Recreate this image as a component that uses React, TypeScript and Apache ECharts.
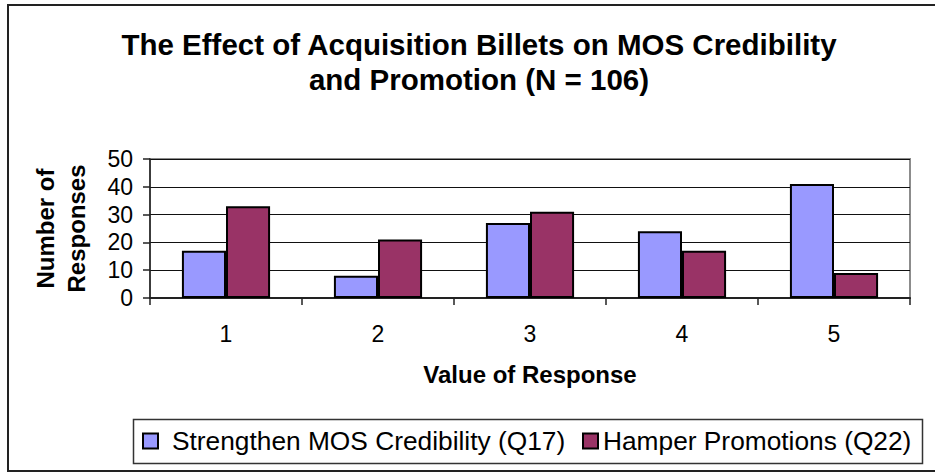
import React, { useEffect, useRef } from 'react';
import * as echarts from 'echarts';

const categories = ['1', '2', '3', '4', '5'];
const strengthenMOS = [17, 8, 27, 24, 41];
const hamperPromotions = [33, 21, 31, 17, 9];
const seriesNames = ['Strengthen MOS Credibility (Q17)', 'Hamper Promotions (Q22)'];
const seriesColors = ['#9999FF', '#993366'];
const titleLines = ['The Effect of Acquisition Billets on MOS Credibility', 'and Promotion (N = 106)'];
const yMin = 0;
const yMax = 50;
const yInterval = 10;
const xAxisTitle = 'Value of Response';
const yAxisTitle = 'Number of\nResponses';

const FONT = '"Liberation Sans", Arial, Helvetica, sans-serif';

export default function App() {
  const ref = useRef<HTMLDivElement>(null);

  useEffect(() => {
    if (!ref.current) return;
    const chart = echarts.init(ref.current, undefined, { renderer: 'svg' });
    const barStyle = (i: number) => ({ color: seriesColors[i], borderColor: '#000', borderWidth: 2 });
    const option: any = {
      animation: false,
      backgroundColor: '#fff',
      textStyle: { fontFamily: FONT, color: '#000' },
      title: {
        text: titleLines.join('\n'),
        left: 479,
        top: 27,
        textAlign: 'center',
        padding: 0,
        textStyle: { fontFamily: FONT, fontSize: 29.5, fontWeight: 'bold', color: '#000', lineHeight: 35 },
      },
      graphic: [
        {
          type: 'rect',
          z: -1,
          shape: { x: 8, y: 5, width: 940, height: 466 },
          style: { fill: 'none', stroke: '#222', lineWidth: 2 },
        },
        {
          type: 'rect',
          z: -1,
          shape: { x: 133.5, y: 419.5, width: 789, height: 44 },
          style: { fill: 'none', stroke: '#333', lineWidth: 1.5 },
        },
      ],
      legend: [
        {
          data: [seriesNames[0]],
          left: 142,
          top: 426,
          padding: 0,
          itemWidth: 15,
          itemHeight: 15,
          icon: 'rect',
          textStyle: { fontFamily: FONT, fontSize: 26.3, color: '#000', lineHeight: 30, padding: [0, 0, 0, 9] },
        },
        {
          data: [seriesNames[1]],
          left: 582,
          top: 426,
          padding: 0,
          itemWidth: 15,
          itemHeight: 15,
          icon: 'rect',
          textStyle: { fontFamily: FONT, fontSize: 26.3, color: '#000', lineHeight: 30, padding: [0, 0, 0, 0] },
        },
      ],
      grid: {
        left: 150,
        top: 159,
        width: 760,
        height: 139,
        show: true,
        borderColor: '#8c8c8c',
        borderWidth: 2,
        backgroundColor: 'transparent',
      },
      xAxis: {
        type: 'category',
        data: categories,
        name: xAxisTitle,
        nameLocation: 'middle',
        nameGap: 64,
        nameTextStyle: { fontFamily: FONT, fontSize: 24, fontWeight: 'bold', color: '#000' },
        axisLine: { show: true, lineStyle: { color: '#222', width: 2 } },
        axisTick: { show: true, alignWithLabel: false, length: 7, lineStyle: { color: '#222', width: 1.5 } },
        axisLabel: { fontFamily: FONT, fontSize: 23, color: '#000', margin: 24 },
        splitLine: { show: false },
      },
      yAxis: {
        type: 'value',
        min: yMin,
        max: yMax,
        interval: yInterval,
        name: yAxisTitle,
        nameLocation: 'middle',
        nameGap: 58,
        nameRotate: 90,
        nameTextStyle: { fontFamily: FONT, fontSize: 24, fontWeight: 'bold', color: '#000', lineHeight: 31 },
        axisLine: { show: true, lineStyle: { color: '#222', width: 1.5 } },
        axisTick: { show: true, length: 7, lineStyle: { color: '#222', width: 1.5 } },
        axisLabel: { fontFamily: FONT, fontSize: 23, color: '#000', margin: 17 },
        splitLine: { show: true, lineStyle: { color: '#111', width: 1 } },
      },
      series: [
        {
          name: seriesNames[0],
          type: 'bar',
          data: strengthenMOS,
          barGap: '0%',
          barCategoryGap: '42%',
          itemStyle: barStyle(0),
        },
        {
          name: seriesNames[1],
          type: 'bar',
          data: hamperPromotions,
          barGap: '0%',
          barCategoryGap: '42%',
          itemStyle: barStyle(1),
        },
      ],
    };
    chart.setOption(option);
    return () => chart.dispose();
  }, []);

  return (
    <div
      ref={ref}
      style={{ position: 'absolute', left: 0, top: 0, width: 935, height: 473, background: '#fff' }}
    />
  );
}
